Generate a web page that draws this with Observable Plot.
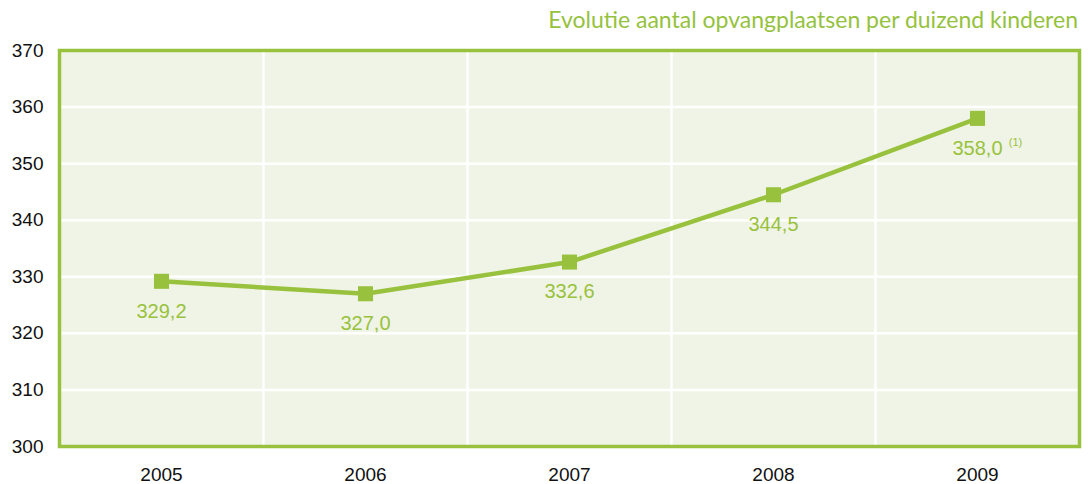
<!DOCTYPE html>
<html>
<head>
<meta charset="utf-8">
<script src="https://cdn.jsdelivr.net/npm/d3@7"></script>
<script src="https://cdn.jsdelivr.net/npm/@observablehq/plot@0.6"></script>
<style>
  body { margin: 0; background: #fff; }
  #title { height: 40px; width: 1091px; box-sizing: border-box; padding-right: 13px; padding-top: 5px;
    text-align: right; font-family: Lato, "Open Sans", sans-serif; font-size: 23px; color: #95c23e; }
</style>
</head>
<body>
<div id="title">Evolutie aantal opvangplaatsen per duizend kinderen</div>
<div id="chart"></div>
<script>
const years = [2005, 2006, 2007, 2008, 2009];
const values = [329.2, 327.0, 332.6, 344.5, 358.0];
const notes = ["", "", "", "", "(1)"];
const yTicks = [300, 310, 320, 330, 340, 350, 360, 370];

const data = years.map((year, i) => ({year, value: values[i], note: notes[i]}));
const boundaries = years.slice(1).map(y => y - 0.5);
const green = "#98c23d";
const fmt = v => v.toFixed(1).replace(".", ",");

const chart = Plot.plot({
  width: 1091,
  height: 444,
  marginLeft: 59,
  marginRight: 12,
  marginTop: 10,
  marginBottom: 38,
  style: {fontFamily: "'Liberation Sans', Arial, sans-serif", fontSize: "19px", color: "#111", background: "transparent"},
  x: {domain: [years[0] - 0.5, years[years.length - 1] + 0.5], ticks: years, tickFormat: d => String(d), tickSize: 0, tickPadding: 21, label: null},
  y: {domain: [300, 370], ticks: yTicks, tickSize: 0, tickPadding: 16, label: null},
  marks: [
    Plot.frame({fill: "#f0f4e6", stroke: null}),
    Plot.ruleY(yTicks, {stroke: "#fff", strokeWidth: 2.5}),
    Plot.ruleX(boundaries, {stroke: "#fff", strokeWidth: 2.5}),
    Plot.frame({stroke: green, strokeWidth: 3.5}),
    Plot.line(data, {x: "year", y: "value", stroke: green, strokeWidth: 4.5}),
    Plot.dot(data, {x: "year", y: "value", symbol: "square", r: 8.5, fill: green, stroke: null}),
    Plot.text(data, {x: "year", y: "value", text: d => fmt(d.value), dy: 30, fill: green, fontSize: 20}),
    Plot.text(data.filter(d => d.note), {x: "year", y: "value", text: "note", dx: 38, dy: 24, fill: green, fontSize: 11})
  ]
});
document.getElementById("chart").appendChild(chart);
</script>
</body>
</html>
